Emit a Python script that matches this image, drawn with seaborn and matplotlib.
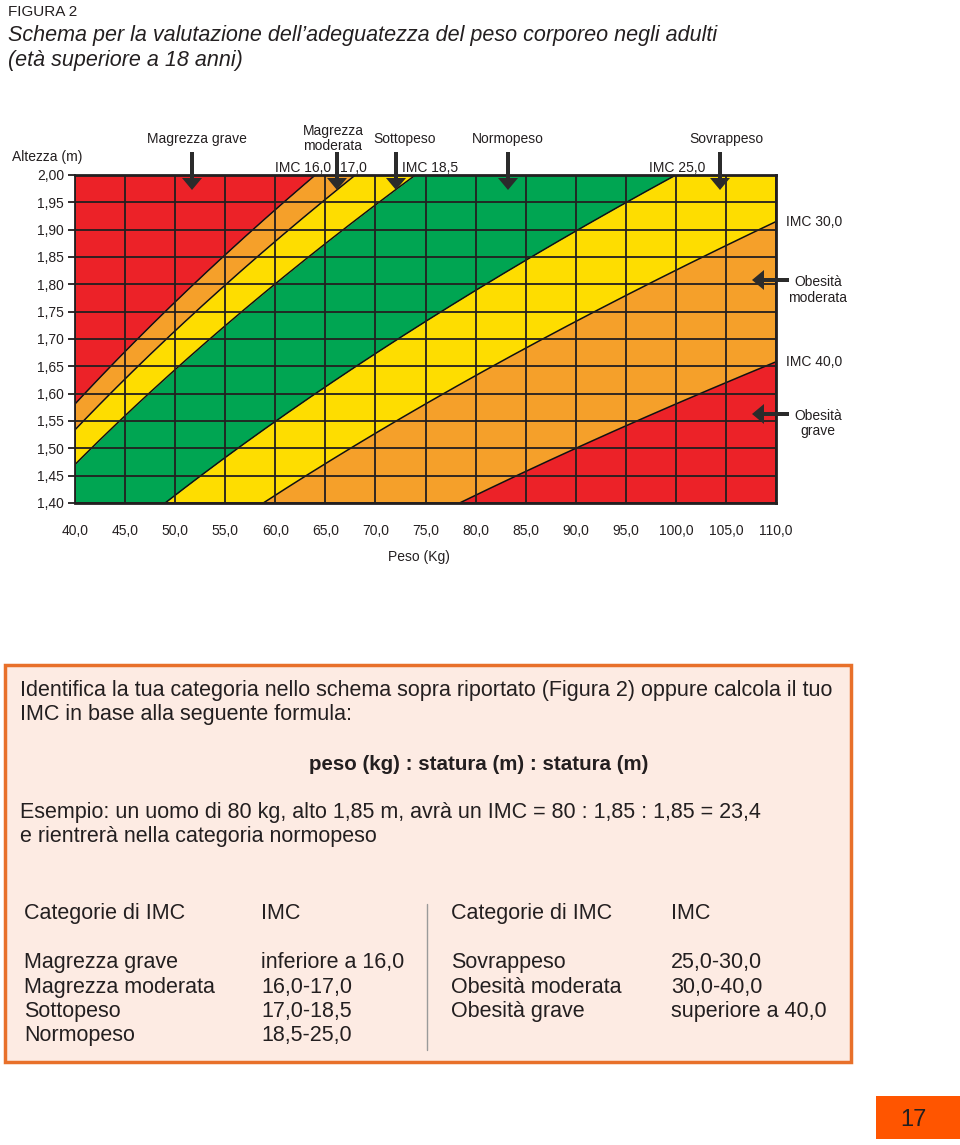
import numpy as np
import seaborn as sns
import matplotlib.pyplot as plt
from matplotlib.patches import Rectangle

# assi del grafico
pesi_tick = [40, 45, 50, 55, 60, 65, 70, 75, 80, 85, 90, 95, 100, 105, 110]
altezze_tick = [1.40, 1.45, 1.50, 1.55, 1.60, 1.65, 1.70, 1.75, 1.80, 1.85, 1.90, 1.95, 2.00]

# soglie IMC e colori delle fasce
soglie_imc = [16.0, 17.0, 18.5, 25.0, 30.0, 40.0]
colori_fasce = ["#ec2228", "#f5a02a", "#fedd00", "#00a552", "#fedd00", "#f5a02a", "#ec2228"]

# tabella delle categorie
categorie_sx = ["Magrezza grave", "Magrezza moderata", "Sottopeso", "Normopeso"]
imc_sx = ["inferiore a 16,0", "16,0-17,0", "17,0-18,5", "18,5-25,0"]
categorie_dx = ["Sovrappeso", "Obesità moderata", "Obesità grave"]
imc_dx = ["25,0-30,0", "30,0-40,0", "superiore a 40,0"]

TXT = "#231f20"
BOX = 15.5

sns.set_style("white")
plt.rcParams['font.family'] = ['Liberation Sans', 'DejaVu Sans']

fig = plt.figure(figsize=(9.6, 11.45), dpi=100)

W, H = 960, 1145
x0, x1, y0, y1 = 75, 776, 175, 503
ax = fig.add_axes([x0 / W, 1 - y1 / H, (x1 - x0) / W, (y1 - y0) / H])

h = np.linspace(1.40, 2.00, 300)
limiti = [0] + soglie_imc + [300]
for i, col in enumerate(colori_fasce):
    ax.fill_betweenx(h, limiti[i] * h ** 2, limiti[i + 1] * h ** 2, color=col, lw=0, zorder=1)
for s in soglie_imc:
    sns.lineplot(x=s * h ** 2, y=h, sort=False, estimator=None, color="#111111", lw=1.1, ax=ax, zorder=2)

ax.set_xlim(40, 110)
ax.set_ylim(1.40, 2.00)
ax.set_xticks(pesi_tick)
ax.set_yticks(altezze_tick)
ax.set_xticklabels(["{:.1f}".format(p).replace(".", ",") for p in pesi_tick])
ax.set_yticklabels(["{:.2f}".format(a).replace(".", ",") for a in altezze_tick])
ax.set_axisbelow(False)
ax.grid(True, color="#231f20", lw=1.3)
ax.tick_params(axis="x", length=0, pad=15, labelsize=10, labelcolor=TXT)
ax.tick_params(axis="y", left=True, length=5, width=1.3, color=TXT, pad=3, labelsize=10, labelcolor=TXT)
ax.set_xlabel("")
ax.set_ylabel("")
for side in ["top", "right", "bottom"]:
    ax.spines[side].set_color(TXT)
    ax.spines[side].set_linewidth(2)
ax.spines["left"].set_color(TXT)
ax.spines["left"].set_linewidth(1.3)

# livello in pixel per testi e frecce
ov = fig.add_axes([0, 0, 1, 1])
ov.set_xlim(0, W)
ov.set_ylim(H, 0)
ov.axis("off")


def t(x, y, s, ha="left", size=10, **kw):
    ov.text(x, y, s, ha=ha, va="center_baseline", fontsize=size, color=TXT, **kw)


def freccia(xa, ya, xb, yb):
    ov.arrow(xa, ya, xb - xa, yb - ya, width=4, head_width=20, head_length=12,
             length_includes_head=True, color="#2b2b2b", lw=0)


t(8, 11, "FIGURA 2", size=11)
t(8, 33, "Schema per la valutazione dell’adeguatezza del peso corporeo negli adulti", size=15.5, style="italic")
t(8, 58, "(età superiore a 18 anni)", size=15.5, style="italic")

t(47, 156, "Altezza (m)", ha="center")
t(197, 137, "Magrezza grave", ha="center")
t(333, 129, "Magrezza", ha="center")
t(333, 145, "moderata", ha="center")
t(405, 137, "Sottopeso", ha="center")
t(508, 137, "Normopeso", ha="center")
t(726, 137, "Sovrappeso", ha="center")
t(275, 166, "IMC 16,0")
t(340, 166, "17,0")
t(402, 166, "IMC 18,5")
t(649, 166, "IMC 25,0")
t(786, 220, "IMC 30,0")
t(818, 281, "Obesità", ha="center")
t(818, 297, "moderata", ha="center")
t(786, 361, "IMC 40,0")
t(818, 414, "Obesità", ha="center")
t(818, 430, "grave", ha="center")
t(419, 556, "Peso (Kg)", ha="center")

for xa in [192, 337, 396, 508, 720]:
    freccia(xa, 152, xa, 190)
for ya in [280, 414]:
    freccia(789, ya, 752, ya)

# riquadro con spiegazione
ov.add_patch(Rectangle((5, 665), 846, 397, facecolor="#fdebe3", edgecolor="#e8702a", lw=2.5))
t(20, 688, "Identifica la tua categoria nello schema sopra riportato (Figura 2) oppure calcola il tuo", size=BOX)
t(20, 712, "IMC in base alla seguente formula:", size=BOX)
t(479, 762, "peso (kg) : statura (m) : statura (m)", ha="center", size=14.8, weight="bold")
t(20, 810, "Esempio: un uomo di 80 kg, alto 1,85 m, avrà un IMC = 80 : 1,85 : 1,85 = 23,4", size=BOX)
t(20, 834, "e rientrerà nella categoria normopeso", size=BOX)

t(24, 911, "Categorie di IMC", size=BOX)
t(261, 911, "IMC", size=BOX)
t(451, 911, "Categorie di IMC", size=BOX)
t(671, 911, "IMC", size=BOX)
righe = [960, 985, 1009, 1033]
for i, (c, v) in enumerate(zip(categorie_sx, imc_sx)):
    t(24, righe[i], c, size=BOX)
    t(261, righe[i], v, size=BOX)
for i, (c, v) in enumerate(zip(categorie_dx, imc_dx)):
    t(451, righe[i], c, size=BOX)
    t(671, righe[i], v, size=BOX)
ov.plot([427, 427], [904, 1050], color="#9a9a9a", lw=1)

# numero di pagina
ov.add_patch(Rectangle((876, 1096), 84, 43, facecolor="#ff5500", lw=0))
t(913, 1117, "17", ha="center", size=17)

fig.savefig("out.png", dpi=100)
